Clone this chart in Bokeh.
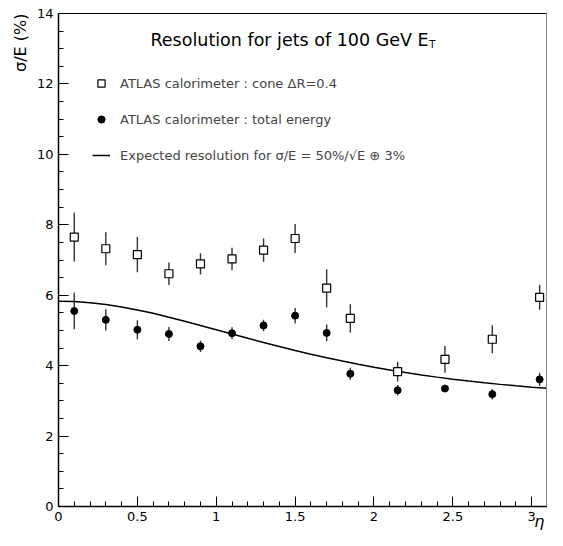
from bokeh.plotting import figure
from bokeh.models import (ColumnDataSource, Label, Legend, LegendItem,
                          FixedTicker, Span, Title)
from bokeh.embed import file_html
from bokeh.resources import INLINE

# ---- data ----
eta = [0.1, 0.3, 0.5, 0.7, 0.9, 1.1, 1.3, 1.5, 1.7, 1.85, 2.15, 2.45, 2.75, 3.05]
cone_res = [7.65, 7.32, 7.15, 6.61, 6.89, 7.03, 7.28, 7.61, 6.20, 5.34, 3.83, 4.18, 4.75, 5.94]
cone_err = [0.69, 0.47, 0.50, 0.32, 0.30, 0.32, 0.33, 0.41, 0.54, 0.40, 0.28, 0.38, 0.40, 0.35]
tot_res = [5.55, 5.30, 5.02, 4.90, 4.55, 4.92, 5.14, 5.42, 4.93, 3.77, 3.30, 3.35, 3.19, 3.61]
tot_err = [0.52, 0.30, 0.27, 0.20, 0.16, 0.17, 0.16, 0.22, 0.24, 0.17, 0.15, 0.10, 0.15, 0.19]

curve_eta = [0.0, 0.1, 0.2, 0.3, 0.4, 0.5, 0.6, 0.7, 0.8, 0.9, 1.0, 1.1, 1.2, 1.3, 1.4, 1.5,
             1.6, 1.7, 1.8, 1.9, 2.0, 2.1, 2.2, 2.3, 2.4, 2.5, 2.6, 2.7, 2.8, 2.9, 3.0, 3.1]
curve_res = [5.831, 5.820, 5.789, 5.737, 5.668, 5.583, 5.485, 5.377, 5.262, 5.142, 5.020,
             4.897, 4.776, 4.657, 4.541, 4.430, 4.324, 4.224, 4.129, 4.039, 3.955, 3.877,
             3.804, 3.737, 3.674, 3.616, 3.563, 3.514, 3.468, 3.427, 3.389, 3.354]

x_ticks = [0, 0.5, 1, 1.5, 2, 2.5, 3]
x_tick_labels = ["0", "0.5", "1", "1.5", "2", "2.5", "3"]
y_ticks = [0, 2, 4, 6, 8, 10, 12, 14]
y_tick_labels = ["0", "2", "4", "6", "8", "10", "12", "14"]

FONT = "DejaVu Sans"

cone = ColumnDataSource(dict(
    x=eta, y=cone_res,
    lo=[v - e for v, e in zip(cone_res, cone_err)],
    hi=[v + e for v, e in zip(cone_res, cone_err)]))
tot = ColumnDataSource(dict(
    x=eta, y=tot_res,
    lo=[v - e for v, e in zip(tot_res, tot_err)],
    hi=[v + e for v, e in zip(tot_res, tot_err)]))
curve = ColumnDataSource(dict(x=curve_eta, y=curve_res))

p = figure(width=547, height=530, output_backend="svg", toolbar_location=None,
           x_range=(0, 3.1), y_range=(0, 14),
           min_border_left=58, min_border_right=0, min_border_top=13, min_border_bottom=24)
p.grid.visible = False
p.outline_line_color = "black"
p.outline_line_width = 1
p.background_fill_color = "white"
p.border_fill_color = "white"

# axes
p.xaxis.ticker = FixedTicker(ticks=x_ticks, minor_ticks=[round(0.1 * i, 1) for i in range(32)])
p.xaxis.major_label_overrides = {t: l for t, l in zip(x_ticks, x_tick_labels)}
p.yaxis.ticker = FixedTicker(ticks=y_ticks, minor_ticks=[0.5 * i for i in range(29)])
p.yaxis.major_label_overrides = {t: l for t, l in zip(y_ticks, y_tick_labels)}
for ax in (p.xaxis[0], p.yaxis[0]):
    ax.axis_line_color = "black"
    ax.axis_line_width = 1.5
    ax.major_tick_in = 10
    ax.major_tick_out = 0
    ax.minor_tick_in = 5
    ax.minor_tick_out = 0
    ax.major_tick_line_color = "black"
    ax.minor_tick_line_color = "black"
    ax.major_label_text_font = FONT
    ax.major_label_text_font_size = "13px"
    ax.major_label_text_color = "black"
p.xaxis.major_label_standoff = 5
p.yaxis.major_label_standoff = 5

# x axis title (eta) at the right end, tucked beside the tick labels
p.add_layout(Title(text="\u03b7", align="right", vertical_align="top", offset=3,
                   text_font=FONT, text_font_size="16px", text_font_style="italic",
                   text_color="black", standoff=-24), "below")

# y axis title at the top end
p.add_layout(Title(text="\u03c3/E (%)", align="right", text_font=FONT,
                   text_font_size="16px", text_font_style="normal",
                   text_color="black", standoff=8), "left")

# right shadow edge
p.add_layout(Span(location=3.1, dimension="height", line_color="#888888", line_width=3))

# error bars
p.segment(x0="x", y0="lo", x1="x", y1="hi", source=cone, line_color="#333333", line_width=1.4)
p.segment(x0="x", y0="lo", x1="x", y1="hi", source=tot, line_color="#333333", line_width=1.4)

# curve
r_curve = p.line("x", "y", source=curve, line_color="black", line_width=1.5)

# markers
r_cone = p.scatter("x", "y", source=cone, marker="square", size=8,
                   fill_color="white", line_color="black", line_width=1.2)
r_tot = p.scatter("x", "y", source=tot, marker="circle", size=7,
                  fill_color="black", line_color="black")

legend = Legend(items=[
    LegendItem(label="ATLAS calorimeter : cone \u0394R=0.4", renderers=[r_cone]),
    LegendItem(label="ATLAS calorimeter : total energy", renderers=[r_tot]),
    LegendItem(label="Expected resolution for \u03c3/E = 50%/\u221aE \u2295 3%", renderers=[r_curve]),
], location=(34, 342), orientation="vertical",
    glyph_width=18, glyph_height=18, spacing=18, padding=0, margin=0,
    label_standoff=10, label_text_font=FONT, label_text_font_size="13px",
    label_height=18,
    border_line_alpha=0, background_fill_alpha=0)
p.add_layout(legend)

# title with subscript
p.add_layout(Label(x=0.583, y=13.24, text="Resolution for jets of 100 GeV E",
                   text_font=FONT, text_font_size="17.5px",
                   text_align="left", text_baseline="middle", text_color="black"))
p.add_layout(Label(x=2.35, y=13.12, text="T",
                   text_font=FONT, text_font_size="10px",
                   text_align="left", text_baseline="middle", text_color="black"))

open("out.html", "w").write(file_html(p, INLINE))
